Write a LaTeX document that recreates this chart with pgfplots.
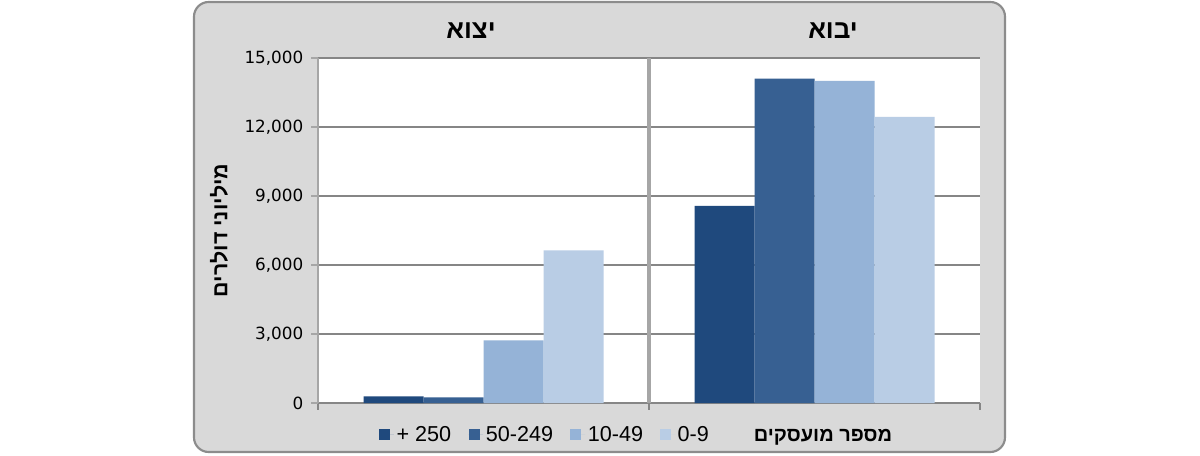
\documentclass[border=0pt]{standalone}
\usepackage{pgfplots}
\pgfplotsset{compat=1.18}
\usepackage{fontspec}
\setmainfont{Liberation Sans}
\newfontfamily\hebfont[Script=Hebrew]{Liberation Sans}
\newfontfamily\tickfont{DejaVu Sans}
\TeXXeTstate=1
\definecolor{cA}{HTML}{1F497D}
\definecolor{cB}{HTML}{376092}
\definecolor{cC}{HTML}{95B3D7}
\definecolor{cD}{HTML}{B9CDE5}
\definecolor{bggray}{HTML}{D9D9D9}
\definecolor{gridgray}{HTML}{868686}
\definecolor{sepgray}{HTML}{A6A6A6}
\definecolor{bordergray}{HTML}{8C8C8C}
\begin{document}
\begin{tikzpicture}
\path[fill=white] (0pt,0pt) rectangle (900pt,341.25pt);
\draw[draw=bordergray, line width=1.6pt, fill=bggray, rounded corners=11pt] (145.5pt,2.25pt) rectangle (753.75pt,339.75pt);
\begin{axis}[
  at={(238.5pt,39pt)}, anchor=south west,
  scale only axis, width=496.5pt, height=258.75pt,
  xmin=-0.5, xmax=1.5, ymin=0, ymax=15000,
  clip=false,
  ybar=0pt, bar width=45pt,
  axis background/.style={fill=white},
  axis x line=bottom, axis y line=left,
  x axis line style={-, draw=gridgray, line width=1.5pt},
  y axis line style={-, draw=sepgray, line width=2pt},
  tick align=outside,
  major tick length=5pt,
  xtick={-0.5,1.5}, xticklabels={},
  x tick style={draw=gridgray, line width=1.5pt},
  y tick style={draw=sepgray, line width=1.5pt},
  extra x ticks={0.5}, extra x tick labels={},
  extra x tick style={xmajorgrids=true, major grid style={draw=sepgray, line width=3pt}, major tick style={draw=sepgray, line width=3pt}},
  ymajorgrids=true,
  y grid style={draw=gridgray, line width=1.5pt},
  ytick={0,3000,6000,9000,12000,15000},
  scaled y ticks=false,
  yticklabel style={font=\tickfont\fontsize{12.6}{14}\selectfont, text=black, xshift=-2.5pt},
  /pgf/number format/assume math mode=true,
  /pgf/number format/1000 sep={,},
  ylabel={\hebfont\bfseries\beginR מיליוני דולרים\endR},
  ylabel style={at={(rel axis cs:-0.1495,0.5)}, anchor=center, font=\fontsize{16}{18}\selectfont},
  legend columns=-1,
  legend style={at={(rel axis cs:0.0921,-0.092)}, anchor=west, draw=none, fill=none, inner sep=0pt,
    font=\fontsize{16.2}{18}\selectfont, /tikz/every even column/.append style={column sep=11pt}},
  legend image code/.code={\fill[#1] (0pt,-4.1pt) rectangle (8.25pt,4.1pt); \path (0pt,0pt) -- (11pt,0pt);},
]
\addplot[fill=cA, draw=none] coordinates {(0,290) (1,8570)};
\addplot[fill=cB, draw=none] coordinates {(0,250) (1,14100)};
\addplot[fill=cC, draw=none] coordinates {(0,2725) (1,14010)};
\addplot[fill=cD, draw=none] coordinates {(0,6640) (1,12440)};
\legend{+ 250, 50-249, 10-49, 0-9}
\node[font=\hebfont\bfseries\fontsize{19.5}{22}\selectfont] at (rel axis cs:0.2311,1.078) {\beginR יצוא\endR};
\node[font=\hebfont\bfseries\fontsize{19.5}{22}\selectfont] at (rel axis cs:0.778,1.078) {\beginR יבוא\endR};
\node[anchor=base, font=\hebfont\bfseries\fontsize{15}{17}\selectfont] at (rel axis cs:0.7628,-0.113) {\beginR מספר מועסקים\endR};
\end{axis}
\end{tikzpicture}
\end{document}
